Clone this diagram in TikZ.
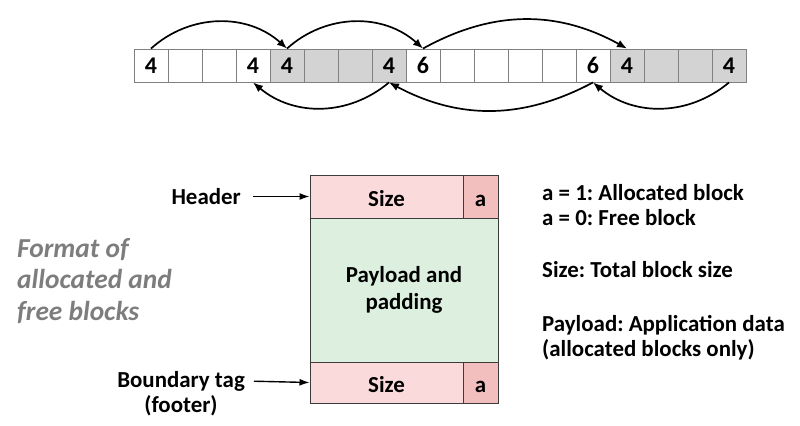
\documentclass[tikz,border=0pt]{standalone}
\usepackage{fontspec}
\setmainfont{Carlito}
\frenchspacing
\usetikzlibrary{positioning, arrows.meta}
\definecolor{cellgrey}{RGB}{211,211,211}
\definecolor{cellline}{RGB}{128,128,128}
\definecolor{hdrpink}{RGB}{250,218,218}
\definecolor{bitpink}{RGB}{242,190,190}
\definecolor{paygreen}{RGB}{221,240,224}
\definecolor{boxline}{RGB}{60,60,60}
\definecolor{titlegrey}{RGB}{125,125,125}
\tikzset{
    cell/.style={rectangle, draw=cellline, line width=0.9pt, minimum width=34bp, minimum height=33bp, inner sep=0pt, font=\fontsize{24}{26}\selectfont\bfseries},
    freecell/.style={cell, fill=white},
    usedcell/.style={cell, fill=cellgrey},
    part/.style={rectangle, draw=boxline, line width=1pt, inner sep=0pt, font=\fontsize{23}{27}\selectfont\bfseries},
    word/.style={part, text height=24bp, text depth=4bp},
    lbl/.style={font=\fontsize{23}{25}\selectfont\bfseries, inner sep=0pt, align=left},
    link/.style={-{Latex[length=10bp, width=8bp]}, line width=1.7pt, black},
    ptr/.style={-{Latex[length=10bp, width=7bp]}, line width=1.4pt, black}
}
\begin{document}
\begin{tikzpicture}[x=1bp, y=-1bp]
        \useasboundingbox (0,0) rectangle (800,425);
        % === Heap row: 18 words ===
        \foreach \i/\kind/\val in {0/freecell/4, 1/freecell/, 2/freecell/, 3/freecell/4,
                                   4/usedcell/4, 5/usedcell/, 6/usedcell/, 7/usedcell/4,
                                   8/freecell/6, 9/freecell/, 10/freecell/, 11/freecell/,
                                   12/freecell/, 13/freecell/6,
                                   14/usedcell/4, 15/usedcell/, 16/usedcell/, 17/usedcell/4}
            \node[\kind] (c\i) at ({151+34*\i},65.5) {\val};
        
        % forward links (header to next header)
        \draw[link] (c0.north) to[out=42, in=138] (c4.north);
        \draw[link] (c4.north) to[out=42, in=138] (c8.north);
        \draw[link] (c8.north) to[out=29, in=151] (c14.north);
        % backward links (footer to previous footer)
        \draw[link] (c17.south) to[out=-140, in=-40] (c13.south);
        \draw[link] (c13.south) to[out=-152, in=-28] (c7.south);
        \draw[link] (c7.south) to[out=-140, in=-40] (c3.south);
        
        % === Block format ===
        \node[word, fill=hdrpink, minimum width=153bp, minimum height=43bp] (hsize) at (386.5,196.5) {Size};
        \node[word, fill=bitpink, minimum width=35bp, minimum height=43bp] (hbit) at (480.5,196.5) {a};
        \node[part, fill=paygreen, minimum width=188bp, minimum height=144bp, align=center] (payload) at (404,290) {Payload and\\padding};
        \node[word, fill=hdrpink, minimum width=153bp, minimum height=41bp] (fsize) at (386.5,382.5) {Size};
        \node[word, fill=bitpink, minimum width=35bp, minimum height=41bp] (fbit) at (480.5,382.5) {a};
        
        % labels on the left
        \node[lbl, anchor=east] (header) at (241,196.5) {Header};
        \draw[ptr, shorten <=12bp] (header.east) -- (hsize.west);
        \node[lbl, anchor=east] (btag) at (245,381) {Boundary tag};
        \node[lbl, below=4bp of btag] (footer) {(footer)};
        \draw[ptr, shorten <=9bp] (btag.east) -- (fsize.west);
        
        % grey title
        \node[font=\fontsize{27.5}{32}\selectfont\bfseries\itshape, text=titlegrey, align=left, anchor=west, inner sep=0pt] (title) at (17,281) {Format of\\allocated and\\free blocks};
        
        % === Legend ===
        \node[lbl, anchor=west] (bitkey) at (542,205) {a = 1: Allocated block\\a = 0: Free block};
        \node[lbl, anchor=west] (sizekey) at (542,270) {Size: Total block size};
        \node[lbl, anchor=west] (paykey) at (542,337.5) {Payload: Application data\\(allocated blocks only)};
\end{tikzpicture}
\end{document}
